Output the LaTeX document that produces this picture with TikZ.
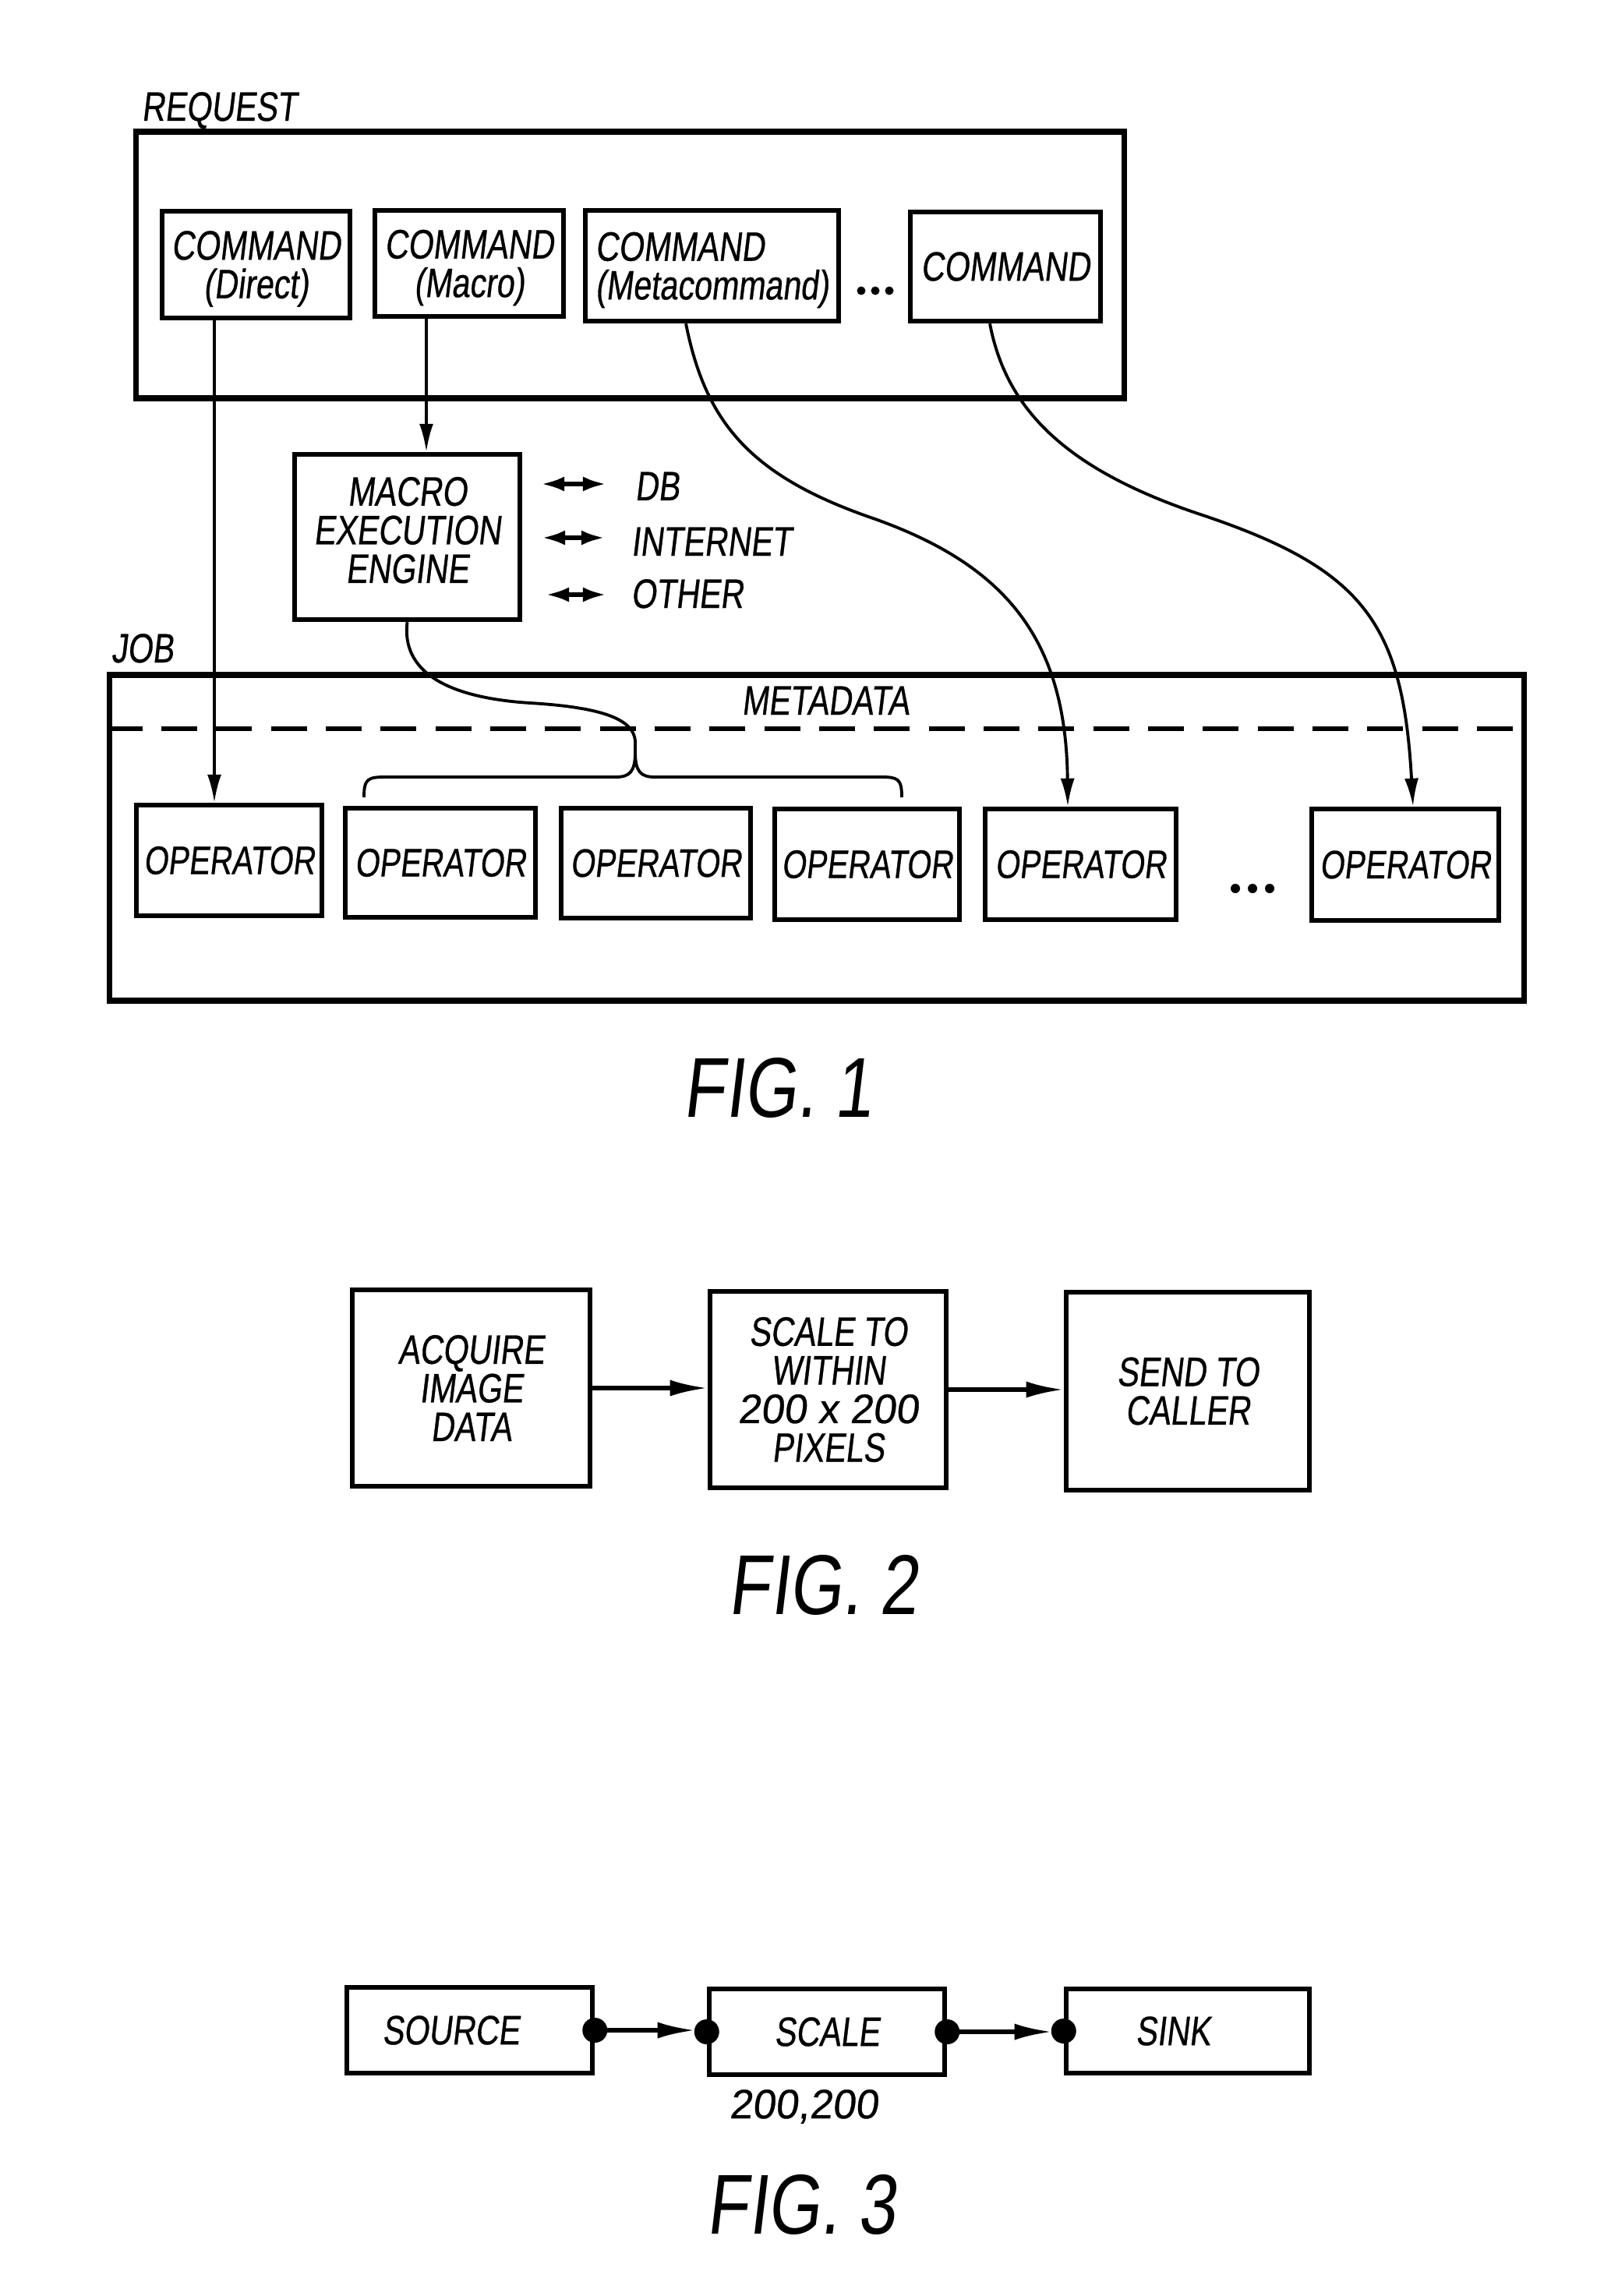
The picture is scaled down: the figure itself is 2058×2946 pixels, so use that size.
\documentclass[tikz,border=0pt]{standalone}
\usepackage{fontspec}
\setmainfont{Liberation Sans}[FakeStretch=0.78,FakeSlant=0.12,FakeBold=0.6]
\newfontfamily\digfont{Liberation Sans}[FakeStretch=1.0,FakeSlant=0.12,FakeBold=0.6]
\newfontfamily\figfont{Liberation Sans}[FakeStretch=0.8,FakeSlant=0.12]
\usetikzlibrary{arrows.meta,calc}
\begin{document}
\begin{tikzpicture}[x=0.01cm,y=-0.01cm,
  every node/.style={font=\fontsize{15}{14.1}\selectfont,inner sep=0pt},
  box/.style={draw,line width=1.8pt,inner sep=0pt,align=center},
  opbox/.style={box,font=\fontsize{14.5}{14}\selectfont},
  frame/.style={draw,line width=2.1pt,inner sep=0pt},
  conn/.style={line width=1.1pt},
  arr/.style={conn,-{Latex[length=0.36cm,width=0.18cm]}},
  arrtwo/.style={line width=1.5pt,-{Latex[length=0.48cm,width=0.21cm]}},
  biarr/.style={line width=1.6pt,{Latex[length=0.3cm,width=0.19cm]}-{Latex[length=0.3cm,width=0.19cm]}},
  figlbl/.style={font=\figfont\fontsize{31}{31}\selectfont,anchor=base}
]
\path[fill=white] (0,0) rectangle (2058,2946);
\useasboundingbox (0,0) rectangle (2058,2946);

% ---------------- FIG. 1 ----------------
\node[frame,minimum width=12.67cm,minimum height=3.42cm] (req) at (808.5,340) {};
\node[anchor=base west] (reqlbl) at (181,155) {REQUEST};
\node[box,text depth=0pt,minimum width=2.41cm,minimum height=1.37cm] (c1) at (328.5,339.5) {COMMAND\\(Direct)};
\node[box,text depth=0pt,minimum width=2.42cm,minimum height=1.36cm] (c2) at (602,338) {COMMAND\\(Macro)};
\node[box,text depth=0pt,minimum width=3.25cm,minimum height=1.42cm,align=left] (c3) at (913.5,341) {COMMAND\\(Metacommand)};
\node[box,minimum width=2.44cm,minimum height=1.40cm] (c4) at (1290,342) {COMMAND};
\foreach \x in {1105,1123,1141} \fill (\x,373) circle[radius=0.055cm];

\node[box,text depth=0.18cm,minimum width=2.89cm,minimum height=2.12cm] (mee) at (522.5,689) {MACRO\\EXECUTION\\ENGINE};

\coordinate (dbL) at (694,621); \coordinate (dbR) at (778,621);
\coordinate (inL) at (695,690); \coordinate (inR) at (776,690);
\coordinate (otL) at (700,763); \coordinate (otR) at (778,763);
\draw[biarr] (dbL) -- (dbR);
\draw[biarr] (inL) -- (inR);
\draw[biarr] (otL) -- (otR);
\node[anchor=base west] (db) at (814,642) {DB};
\node[anchor=base west] (inet) at (809,713) {INTERNET};
\node[anchor=base west] (other) at (809,780) {OTHER};

\node[frame,minimum width=18.14cm,minimum height=4.18cm] (job) at (1048,1075) {};
\node[anchor=base west] (joblbl) at (142,850) {JOB};
\coordinate (dashy) at (0,935);
\draw[line width=1.8pt,dash pattern=on 13pt off 7pt] (job.west |- dashy) -- (job.east |- dashy);
\node[anchor=base] (meta) at (1059,917) {METADATA};

\node[opbox,minimum width=2.38cm,minimum height=1.42cm] (o1) at (294,1104) {OPERATOR};
\node[opbox,minimum width=2.44cm,minimum height=1.40cm] (o2) at (565,1107) {OPERATOR};
\node[opbox,minimum width=2.43cm,minimum height=1.41cm] (o3) at (841.5,1107.5) {OPERATOR};
\node[opbox,minimum width=2.37cm,minimum height=1.42cm] (o4) at (1112.5,1109) {OPERATOR};
\node[opbox,minimum width=2.45cm,minimum height=1.42cm] (o5) at (1386.5,1109) {OPERATOR};
\node[opbox,minimum width=2.40cm,minimum height=1.43cm] (o6) at (1803,1109.5) {OPERATOR};
\foreach \x in {1585,1607,1629} \fill (\x,1140) circle[radius=0.06cm];

% connectors
\coordinate (c1out) at ($(c1.south)+(-53.5,0)$);
\draw[arr] (c1out) -- (c1out |- o1.north);
\coordinate (c2out) at ($(c2.south)+(-55,0)$);
\draw[arr] (c2out) -- (c2out |- mee.north);
\coordinate (c3out) at ($(c3.south)+(-33.5,0)$);
\coordinate (o5in) at ($(o5.north)+(-16.5,0)$);
\draw[arr] (c3out) .. controls (905,540) and (960,610) .. (1120,665)
  .. controls (1290,725) and (1368,820) .. (o5in);
\coordinate (c4out) at ($(c4.south)+(-20,0)$);
\coordinate (o6in) at ($(o6.north)+(10,0)$);
\draw[arr] (c4out) .. controls (1290,520) and (1360,600) .. (1540,660)
  .. controls (1750,730) and (1800,800) .. (o6in);

% brace
\coordinate (btip) at (815,950);
\draw[conn] (467,1023) .. controls (467,999) and (472,997) .. (495,997) -- (790,997)
  .. controls (808,997) and (815,990) .. (815,965) -- (btip);
\draw[conn] (btip) -- (815,965) .. controls (815,990) and (822,997) .. (840,997) -- (1130,997)
  .. controls (1152,997) and (1157,999) .. (1157,1023);
\draw[conn] (mee.south) .. controls (515,860) and (570,895) .. (680,902)
  .. controls (780,908) and (812,925) .. (btip);

\node[figlbl] (fig1) at (998,1433) {FIG. 1};

% ---------------- FIG. 2 ----------------
\node[box,minimum width=3.05cm,minimum height=2.52cm] (acq) at (604.5,1781) {ACQUIRE\\IMAGE\\DATA};
\node[box,minimum width=3.03cm,minimum height=2.52cm] (scl) at (1062.5,1783) {SCALE TO\\WITHIN\\{\digfont 200 x 200}\\PIXELS};
\node[box,minimum width=3.12cm,minimum height=2.54cm] (snd) at (1524,1785) {SEND TO\\CALLER};
\draw[arrtwo] (acq.east) -- (acq.east -| scl.west);
\draw[arrtwo] (scl.east) -- (scl.east -| snd.west);
\node[figlbl] (fig2) at (1056,2071) {FIG. 2};

% ---------------- FIG. 3 ----------------
\node[box,minimum width=3.15cm,minimum height=1.10cm] (src) at (602.5,2605) {\hspace*{-0.48cm}SOURCE};
\node[box,minimum width=3.02cm,minimum height=1.10cm] (sc3) at (1061,2607) {SCALE};
\node[box,minimum width=3.12cm,minimum height=1.08cm] (snk) at (1524,2606) {\hspace*{-0.38cm}SINK};
\draw[arrtwo,shorten >=0.15cm] (src.east) -- (src.east -| sc3.west);
\draw[arrtwo,shorten >=0.15cm] (sc3.east) -- (sc3.east -| snk.west);
\foreach \n/\a in {src/east,sc3/west,sc3/east,snk/west} \fill (\n.\a) circle[radius=0.16cm];
\node[anchor=base,font=\digfont\fontsize{15}{15}\selectfont] (param) at (1031,2718) {200,200};
\node[figlbl] (fig3) at (1028,2866) {FIG. 3};
\end{tikzpicture}
\end{document}
